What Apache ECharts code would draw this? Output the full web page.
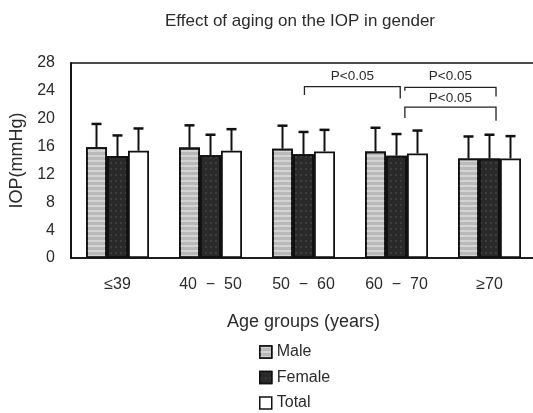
<!DOCTYPE html>
<html><head><meta charset="utf-8">
<script src="https://cdn.jsdelivr.net/npm/echarts@6/dist/echarts.min.js"></script>
<style>html,body{margin:0;padding:0;background:#fff}#c{width:533px;height:413px}</style>
</head><body><div id="c"></div>
<script>
// ---- data ----
const categories = ['≤39', '40  −  50', '50  −  60', '60  −  70', '≥70'];
const seriesNames = ['Male', 'Female', 'Total'];
const maleMean   = [15.9, 15.85, 15.7, 15.3, 14.3];
const maleSD     = [3.35, 3.2, 3.3, 3.4, 3.15];
const femaleMean = [14.65, 14.75, 14.9, 14.7, 14.3];
const femaleSD   = [2.95, 2.95, 3.2, 3.1, 3.4];
const totalMean  = [15.4, 15.4, 15.3, 15.0, 14.3];
const totalSD    = [3.2, 3.1, 3.1, 3.3, 3.2];
const yTicks = [0, 4, 8, 12, 16, 20, 24, 28];
// significance brackets: [fromGroup, toGroup, topValue, leftEndValue, rightEndValue, labelValue]
const brackets = [
  [2.01, 3.04, 24.6, 23.4, 22.9, 26.05],
  [3.09, 4.07, 24.5, 24.0, 23.2, 26.05],
  [3.09, 4.07, 21.65, 20.1, 19.7, 23.0]
];
const bracketLabels = ['P<0.05', 'P<0.05', 'P<0.05'];

const means = [maleMean, femaleMean, totalMean];
const sds = [maleSD, femaleSD, totalSD];
const fills = ['#b9b9b9', '#2a2a2a', '#ffffff'];
const decals = [
  {symbol: 'rect', symbolSize: 1, dashArrayX: [[1, 0]], dashArrayY: [2, 3], rotation: 0, color: 'rgba(235,235,235,0.55)'},
  {symbol: 'rect', symbolSize: 1, dashArrayX: [[2, 3]], dashArrayY: [2, 4], rotation: 0, color: 'rgba(80,80,80,0.5)'},
  null
];
const barW = 21;
const textColor = '#2b2b2b';
const FF = '"Liberation Sans", Arial, sans-serif';

const chart = echarts.init(document.getElementById('c'), null, {renderer: 'canvas'});

const series = [];
seriesNames.forEach((name, s) => {
  const st = {color: fills[s], borderColor: '#111', borderWidth: 1.8};
  if (decals[s]) st.decal = decals[s];
  series.push({
    name: name, type: 'bar', barWidth: barW, barGap: '0%',
    data: means[s],
    itemStyle: st,
    z: 2
  });
});
seriesNames.forEach((name, s) => {
  const off = (s - 1) * barW;
  series.push({
    name: name + ' SD', type: 'custom', z: 5,
    data: means[s].map((m, i) => [i, m, sds[s][i]]),
    renderItem(params, api) {
      const x = api.value(0), m = api.value(1), sd = api.value(2);
      const p0 = api.coord([x, m]);
      const p1 = api.coord([x, m + sd]);
      const cx = p0[0] + off;
      return {type: 'group', children: [
        {type: 'line', shape: {x1: cx, y1: p0[1], x2: cx, y2: p1[1]}, style: {stroke: '#111', lineWidth: 2}},
        {type: 'line', shape: {x1: cx - 5, y1: p1[1], x2: cx + 5, y2: p1[1]}, style: {stroke: '#111', lineWidth: 2.5}}
      ]};
    }
  });
});
series.push({
  name: 'brackets', type: 'custom', xAxisIndex: 1, yAxisIndex: 0, z: 6,
  data: brackets.map((b, i) => b.concat([i])),
  renderItem(params, api) {
    const x1 = api.value(0), x2 = api.value(1), yt = api.value(2), yl = api.value(3), yr = api.value(4), ylab = api.value(5);
    const idx = api.value(6);
    const a = api.coord([x1, yt]), b = api.coord([x2, yt]);
    const al = api.coord([x1, yl]), br = api.coord([x2, yr]);
    const lab = api.coord([(x1 + x2) / 2, ylab]);
    return {type: 'group', children: [
      {type: 'polyline', shape: {points: [[al[0], al[1]], [a[0], a[1]], [b[0], b[1]], [br[0], br[1]]]},
       style: {stroke: '#222', lineWidth: 1.3, fill: null}},
      {type: 'text', x: lab[0], y: lab[1],
       style: {text: bracketLabels[idx], fill: textColor, font: '13.5px ' + FF, align: 'center', verticalAlign: 'middle'}}
    ]};
  }
});

chart.setOption({
  animation: false,
  backgroundColor: '#fff',
  title: {
    text: 'Effect of aging on the IOP in gender', left: 295, top: 8, textAlign: 'center',
    textStyle: {fontFamily: FF, fontSize: 17, fontWeight: 'normal', color: textColor}
  },
  legend: {
    data: seriesNames, orient: 'vertical', left: 259, top: 344, padding: 0, height: 69,
    itemWidth: 12, itemHeight: 12, itemGap: 9.5, icon: 'rect',
    textStyle: {fontFamily: FF, fontSize: 16, color: textColor, lineHeight: 16},
    itemStyle: {borderColor: '#111', borderWidth: 1.5}
  },
  grid: {left: 71, top: 63, width: 465, height: 195, outerBoundsMode: 'none', containLabel: false,
         show: true, borderColor: '#111', borderWidth: 1.5, backgroundColor: 'transparent'},
  xAxis: [{
    type: 'category', data: categories,
    axisLine: {lineStyle: {color: '#111', width: 1.5}},
    axisTick: {show: false},
    axisLabel: {margin: 19, fontSize: 16, color: textColor, fontFamily: FF},
    name: 'Age groups (years)', nameLocation: 'middle', nameGap: 55,
    nameTextStyle: {fontSize: 18, color: textColor, fontFamily: FF}
  }, {
    type: 'value', min: -0.5, max: 4.5, show: false
  }],
  yAxis: {
    type: 'value', min: yTicks[0], max: yTicks[yTicks.length - 1], interval: yTicks[1] - yTicks[0],
    splitLine: {show: false},
    axisLine: {show: true, onZero: false, lineStyle: {color: '#111', width: 1.8}},
    axisTick: {show: false},
    axisLabel: {margin: 16, fontSize: 16, color: textColor, fontFamily: FF},
    name: 'IOP(mmHg)', nameLocation: 'middle', nameGap: 44,
    nameTextStyle: {fontSize: 18, color: textColor, fontFamily: FF}
  },
  series: series
});
</script>
</body></html>
